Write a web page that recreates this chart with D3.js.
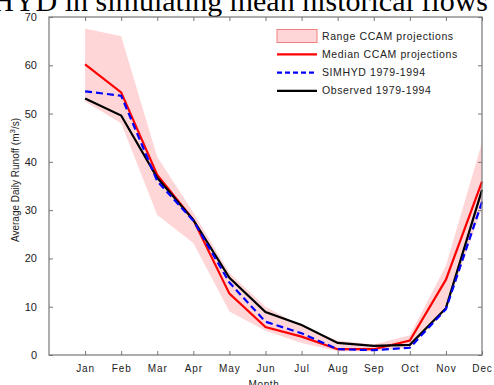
<!DOCTYPE html>
<html>
<head>
<meta charset="utf-8">
<script src="https://cdn.jsdelivr.net/npm/d3@7"></script>
<style>
  body { margin: 0; background: #fff; }
  svg { display: block; }
</style>
</head>
<body>
<svg id="chart" width="494" height="385"></svg>
<script>
// Month labels
const months = ["Jan", "Feb", "Mar", "Apr", "May", "Jun", "Jul", "Aug", "Sep", "Oct", "Nov", "Dec"];

// Series values (m3/s)
const rangeUpper = [67.6, 66, 41, 29.5, 17, 10, 6, 3, 2.2, 4.1, 18.5, 44];
const rangeLower = [52.5, 48, 29, 23.2, 9, 5, 2.5, 0.8, 0.8, 1.5, 9.3, 30.5];
const medianCCAM = [60.2, 54.4, 37.3, 28, 12.7, 5.8, 3.8, 1.2, 1.2, 3.0, 15.6, 35.9];
const simhyd = [54.6, 53.7, 36, 27.8, 15, 6.9, 4.5, 1.2, 1.0, 1.5, 9.5, 31.7];
const observed = [53.1, 49.6, 36.7, 28, 16, 8.9, 6.2, 2.5, 1.9, 2.1, 9.7, 34.2];

const yTicks = [0, 10, 20, 30, 40, 50, 60, 70];

const svg = d3.select("#chart");
const plotLeft = 49, plotRight = 482, plotTop = 17, plotBottom = 355;

const x = d3.scaleLinear().domain([0, 12]).range([plotLeft, plotRight]);
const y = d3.scaleLinear().domain([0, 70]).range([plotBottom, plotTop]);

// clipped caption text from the surrounding document
svg.append("text")
  .attr("x", 488)
  .attr("y", 11)
  .attr("text-anchor", "end")
  .style("font-family", "'Liberation Serif', 'Times New Roman', serif")
  .style("font-size", "30px")
  .text("SIMHYD in simulating mean historical flows");

const idx = d3.range(12);

// range band
svg.append("path")
  .datum(idx)
  .attr("fill", "#ffd6d8")
  .attr("d", d3.area()
    .x(i => x(i + 1))
    .y0(i => y(rangeLower[i]))
    .y1(i => y(rangeUpper[i])));

const line = vals => d3.line().x(i => x(i + 1)).y(i => y(vals[i]))(idx);

svg.append("path").attr("d", line(medianCCAM))
  .attr("fill", "none").attr("stroke", "#ff0000").attr("stroke-width", 2.2);
svg.append("path").attr("d", line(observed))
  .attr("fill", "none").attr("stroke", "#000").attr("stroke-width", 2.2);
svg.append("path").attr("d", line(simhyd))
  .attr("fill", "none").attr("stroke", "#0000ff").attr("stroke-width", 2.2)
  .attr("stroke-dasharray", "7,4");

// frame
svg.append("rect")
  .attr("x", plotLeft).attr("y", plotTop)
  .attr("width", plotRight - plotLeft).attr("height", plotBottom - plotTop)
  .attr("fill", "none").attr("stroke", "#777").attr("stroke-width", 1.2);

const tickLen = 4;
const axisFont = "'Liberation Sans', Arial, sans-serif";

// bottom axis + top mirror ticks
const xAxis = d3.axisBottom(x)
  .tickValues(d3.range(1, 13))
  .tickSizeInner(-tickLen).tickSizeOuter(0)
  .tickPadding(10)
  .tickFormat(d => months[d - 1]);
const gx = svg.append("g").attr("transform", `translate(0,${plotBottom})`).call(xAxis);
gx.select(".domain").remove();
gx.selectAll("line").attr("stroke", "#777");
gx.selectAll("text")
  .style("font-family", axisFont).style("font-size", "10px")
  .style("letter-spacing", "0.9px").attr("fill", "#222");

const gxTop = svg.append("g").attr("transform", `translate(0,${plotTop})`)
  .call(d3.axisTop(x).tickValues(d3.range(1, 13)).tickSizeInner(-tickLen).tickSizeOuter(0).tickFormat(""));
gxTop.select(".domain").remove();
gxTop.selectAll("line").attr("stroke", "#777");

// left axis + right mirror ticks
const gy = svg.append("g").attr("transform", `translate(${plotLeft},0)`)
  .call(d3.axisLeft(y).tickValues(yTicks).tickSizeInner(-tickLen).tickSizeOuter(0).tickPadding(12));
gy.select(".domain").remove();
gy.selectAll("line").attr("stroke", "#777");
gy.selectAll("text")
  .style("font-family", axisFont).style("font-size", "11px").attr("fill", "#222");

const gyRight = svg.append("g").attr("transform", `translate(${plotRight},0)`)
  .call(d3.axisRight(y).tickValues(yTicks).tickSizeInner(-tickLen).tickSizeOuter(0).tickFormat(""));
gyRight.select(".domain").remove();
gyRight.selectAll("line").attr("stroke", "#777");

// axis titles
const yTitle = svg.append("text")
  .attr("transform", "translate(19,180) rotate(-90)")
  .attr("text-anchor", "middle")
  .style("font-family", axisFont).style("font-size", "10px").attr("fill", "#222");
yTitle.append("tspan").text("Average Daily Runoff (m");
yTitle.append("tspan").attr("dy", -4).style("font-size", "8px").text("3");
yTitle.append("tspan").attr("dy", 4).text("/s)");

svg.append("text")
  .attr("x", 264).attr("y", 388)
  .attr("text-anchor", "middle")
  .style("font-family", axisFont).style("font-size", "10px")
  .style("letter-spacing", "0.6px").attr("fill", "#222")
  .text("Month");

// legend
const legend = svg.append("g").attr("transform", "translate(277,36)");
const legendItems = [
  { label: "Range CCAM projections", type: "area" },
  { label: "Median CCAM projections", color: "#ff0000" },
  { label: "SIMHYD 1979-1994", color: "#0000ff", dash: "5,3" },
  { label: "Observed 1979-1994", color: "#000" }
];
legendItems.forEach((d, i) => {
  const g = legend.append("g").attr("transform", `translate(0,${i * 18.3})`);
  if (d.type === "area") {
    g.append("rect").attr("x", 0).attr("y", -6.5).attr("width", 40).attr("height", 13)
      .attr("fill", "#ffd6d8").attr("stroke", "#f08080").attr("stroke-width", 1);
  } else {
    g.append("line").attr("x1", 0).attr("x2", 40).attr("y1", 0).attr("y2", 0)
      .attr("stroke", d.color).attr("stroke-width", 2.2)
      .attr("stroke-dasharray", d.dash || null);
  }
  g.append("text").attr("x", 45).attr("y", 3.5)
    .style("font-family", axisFont).style("font-size", "10.5px")
    .style("letter-spacing", "0.6px").attr("fill", "#222")
    .text(d.label);
});
</script>
</body>
</html>
